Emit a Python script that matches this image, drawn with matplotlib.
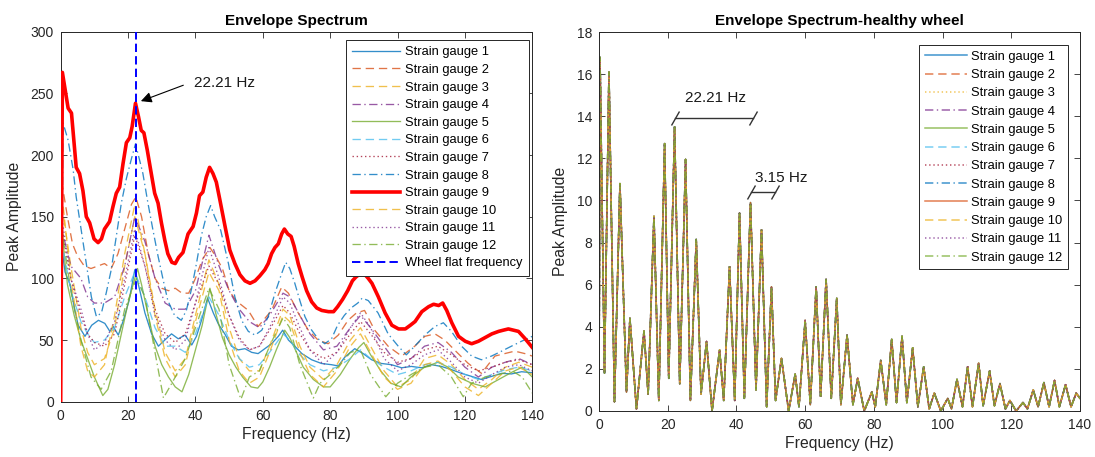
import matplotlib
matplotlib.use("Agg")
import matplotlib.pyplot as plt
from matplotlib.markers import MarkerStyle
from matplotlib.transforms import Affine2D

plt.rcParams['font.family'] = ['Liberation Sans', 'DejaVu Sans']
plt.rcParams['lines.scale_dashes'] = False

# ---------------- data: left panel (wheel with flat) ----------------
g1_f = [0, 0.3, 1.3, 2.8, 4.2, 5.2, 7.2, 9.2, 11.2, 13.1,
        14.6, 15.6, 17.1, 18.6, 20.3, 22.0, 23.5, 25.0, 27.0, 29.0,
        30.9, 32.9, 34.9, 36.9, 38.9, 40.3, 41.8, 43.6, 45.3, 46.8,
        48.7, 50.7, 52.7, 54.7, 56.7, 58.6, 60.6, 62.6, 64.6, 65.9,
        67.6, 69.5, 71.6, 74.5, 77.4, 80.4, 82.4, 84.3, 87.3, 89.8,
        92.3, 95.2, 98.2, 101.2, 104.1, 107.1, 110.1, 113.0, 116.0, 119.0,
        122.0, 124.9, 127.9, 130.9, 133.8, 136.8, 140.0]
g1_a = [0, 125, 105, 95, 74, 62, 53, 62, 66, 63.5,
        57, 61, 54, 66, 82, 107, 90, 72, 55, 45,
        50, 55, 51, 54, 46, 53, 66, 84, 72, 63,
        55, 45, 42, 43, 40, 39, 43, 47, 53, 58,
        50, 45, 39, 34, 31, 30, 29, 36, 43, 39,
        34, 31, 30, 27.5, 28.6, 27.5, 30, 28.6, 26, 23,
        20.5, 18, 20.5, 23, 22.5, 24.3, 23.5]

g2_f = [0, 0.5, 2, 3.5, 5, 7, 9, 11, 13, 15,
        17, 19, 21, 22.3, 24, 26, 28, 30, 32, 34,
        36, 38, 40, 42, 44.3, 46, 48, 50, 52, 55.7,
        58.6, 62.6, 65.6, 67.6, 70.5, 73.5, 76.4, 79.4, 82.4, 85.3,
        87.8, 90.2, 93.2, 97.2, 101.2, 105.1, 108.1, 111.1, 114.0, 118.0,
        121.0, 124.9, 128.9, 131.8, 134.8, 137.8, 140]
g2_a = [0, 175, 150, 128, 118, 110, 108, 110, 112, 108,
        120, 140, 160, 166, 150, 120, 100, 92, 90, 92,
        88, 88, 100, 115, 125, 118, 108, 90, 82, 74,
        61, 74, 93, 88, 72, 58, 50, 47, 54, 66,
        72, 74, 58, 45, 37, 45, 53, 55, 50, 39,
        31, 23, 37, 39, 41, 39, 37]

g5_f = [0, 0.3, 1, 2, 4, 6, 8, 10, 12.5, 14,
        16, 18, 20, 22.8, 24, 26, 28, 30, 32, 34,
        36, 38, 40, 42, 44.3, 46, 48, 50, 52, 54,
        56.5, 58.5, 60, 62, 64, 66.5, 68, 70, 72, 75,
        78, 80, 83, 86, 88.5, 90, 92, 95, 98, 101,
        104, 108, 112, 115, 118, 122, 126, 130, 134, 137,
        140]
g5_a = [0, 150, 120, 95, 70, 50, 35, 20, 5, 10,
        30, 55, 80, 108, 95, 70, 45, 30, 20, 12,
        8, 22, 42, 62, 92, 72, 52, 38, 28, 20,
        12, 11, 16, 28, 42, 58, 52, 40, 28, 18,
        12, 12, 22, 35, 44, 48, 38, 25, 15, 12,
        20, 28, 32, 28, 20, 15, 12, 18, 24, 28,
        20]

g8_f = [0, 0.7, 2.2, 3.7, 4.6, 6.1, 7.6, 9.1, 10.6, 12.1,
        13.5, 15.0, 16.5, 18.0, 19.5, 21.0, 22.2, 23.5, 24.4, 25.9,
        27.4, 28.9, 30.4, 31.8, 33.8, 35.8, 37.3, 38.8, 40.3, 41.7,
        43.2, 44.5, 45.7, 47.5, 49.8, 51.7, 53.7, 55.7, 57.7, 59.7,
        61.6, 63.6, 65.6, 66.8, 68.0, 69.5, 71.0, 72.5, 74.5, 76.4,
        78.4, 80.4, 82.2, 84.2, 86.2, 88.2, 89.5, 91.3, 94.2, 97.2,
        100.2, 102.6, 105.1, 108.1, 111.1, 113.6, 116.0, 119.0, 122.0, 124.9,
        127.9, 130.9, 133.8, 136.8, 140.0]
g8_a = [0, 226, 212, 188, 166, 139, 112, 85, 69, 72,
        88, 107, 134, 161, 181, 197, 209, 195, 185, 161,
        139, 118, 99, 82, 70, 66, 74, 91, 112, 134,
        150, 159, 150, 139, 112, 85, 66, 57, 54, 58,
        69, 88, 104, 113, 108, 96, 82, 69, 58, 51,
        47, 51, 62, 70, 76, 80, 84, 82, 72, 55,
        45, 38, 45, 54, 61, 64, 57, 45, 37, 34,
        37, 41, 45, 49, 53]

g9_f = [0, 0.5, 2.2, 3.2, 3.9, 4.6, 5.6, 6.6, 7.6, 8.6,
        9.9, 11.1, 12.1, 13.0, 14.5, 15.5, 16.5, 17.5, 18.5, 19.5,
        20.5, 21.2, 22.2, 23.1, 23.9, 24.7, 25.7, 26.7, 27.9, 28.9,
        29.9, 30.9, 31.8, 33.0, 34.0, 35.0, 36.3, 37.8, 39.3, 40.3,
        41.2, 42.2, 43.2, 44.2, 45.2, 46.2, 47.3, 48.8, 50.2, 51.7,
        53.2, 54.7, 56.2, 57.7, 59.1, 60.6, 61.6, 62.6, 63.6, 64.6,
        65.6, 66.4, 67.4, 68.4, 69.3, 70.5, 71.7, 73.0, 74.5, 76.0,
        77.5, 79.5, 81.0, 82.2, 83.7, 85.2, 86.6, 87.6, 89.0, 90.0,
        91.3, 92.4, 94.3, 96.3, 98.3, 100.3, 102.3, 103.8, 105.2, 107.2,
        109.2, 110.7, 112.2, 113.4, 114.6, 116.1, 118.1, 120.1, 122.0, 124.0,
        126.0, 128.0, 130.0, 131.4, 132.9, 134.4, 135.9, 137.9, 140.0]
g9_a = [0, 267, 238, 234, 212, 190, 185, 171, 150, 145,
        132, 129, 132, 140, 146, 158, 169, 174, 193, 210,
        214, 223, 242, 231, 220, 218, 204, 188, 169, 161,
        145, 131, 120, 113, 112, 117, 121, 136, 142, 153,
        167, 170, 182, 190, 185, 178, 163, 142, 123, 112,
        103, 98, 96, 98, 102, 107, 112, 120, 125, 128,
        136, 140, 136, 134, 126, 112, 101, 90, 81, 76,
        74, 73, 73, 77, 83, 90, 98, 101, 104, 104,
        100, 96, 85, 72, 62, 59, 59, 62, 65, 73,
        77, 79, 78, 80, 74, 64, 53, 49, 47, 49,
        52, 55, 57, 58, 59, 58, 57, 51, 44]

g12_f = [0, 0.3, 3, 6, 9, 12, 15, 19, 22.5, 25,
         28, 30.5, 33, 37, 40, 44, 47, 50, 53.5, 56,
         59, 62, 66, 68, 71, 75, 77, 80, 83, 86,
         89, 92, 96.5, 100, 104, 108, 112, 116, 119.5, 122,
         126, 130, 134, 137, 140]
g12_a = [0, 140, 90, 50, 20, 10, 25, 75, 100, 85,
         40, 3, 15, 35, 60, 92, 75, 30, 2, 20,
         25, 45, 68, 60, 30, 3, 15, 22, 30, 40,
         42, 22, 4, 15, 22, 28, 30, 20, 4, 15,
         20, 22, 25, 20, 7]

# coarse frequency grid used for gauges 3, 4, 6, 7, 10, 11
coarse_f = [0, 0.3, 3, 6, 8, 10, 13, 16, 19, 22,
            25, 28, 31, 34, 37, 40, 44, 47, 50, 53,
            56, 59, 62, 66, 68, 71, 74, 78, 82, 86,
            89, 92, 96, 100, 104, 108, 112, 116, 120, 124,
            128, 132, 136, 140]
g3_a = [0, 160, 110, 60, 40, 30, 35, 60, 110, 150,
        120, 75, 40, 25, 35, 70, 115, 95, 60, 35,
        25, 25, 45, 75, 70, 45, 28, 18, 30, 50,
        60, 45, 25, 12, 18, 35, 38, 30, 18, 10,
        18, 28, 32, 28]
g4_a = [0, 140, 110, 100, 85, 80, 80, 85, 110, 150,
        130, 100, 80, 75, 75, 90, 135, 110, 90, 75,
        65, 60, 70, 88, 85, 70, 55, 42, 45, 60,
        70, 60, 45, 30, 35, 45, 48, 40, 28, 20,
        28, 32, 35, 30]
g6_a = [0, 130, 90, 65, 55, 48, 50, 60, 85, 105,
        85, 60, 45, 45, 40, 55, 85, 70, 50, 35,
        28, 30, 40, 55, 50, 38, 30, 25, 28, 35,
        42, 35, 28, 22, 25, 30, 32, 28, 22, 18,
        22, 26, 28, 25]
g7_a = [0, 140, 100, 70, 55, 48, 45, 55, 95, 135,
        110, 75, 55, 48, 55, 80, 110, 95, 70, 52,
        42, 45, 58, 78, 72, 55, 42, 35, 40, 55,
        65, 55, 40, 32, 35, 42, 45, 38, 30, 25,
        28, 32, 34, 30]
g10_a = [0, 170, 100, 45, 25, 20, 30, 70, 120, 160,
         120, 70, 35, 20, 30, 65, 105, 90, 50, 25,
         15, 20, 40, 70, 65, 40, 22, 12, 25, 45,
         55, 40, 20, 10, 15, 30, 33, 25, 12, 5,
         15, 25, 28, 22]
g11_a = [0, 150, 100, 75, 55, 42, 48, 65, 100, 140,
         110, 70, 50, 42, 50, 80, 125, 100, 70, 50,
         42, 45, 60, 85, 80, 60, 42, 30, 40, 60,
         72, 60, 35, 25, 30, 38, 42, 32, 20, 15,
         22, 28, 30, 25]

wheel_flat_freq = 22.21

# ---------------- data: right panel (healthy wheel) ----------------
healthy_f = [0, 0.3, 1.6, 2.9, 4.5, 6.1, 8.0, 9.0, 10.9, 13.1,
             14.3, 16.0, 17.4, 19.1, 20.3, 22.0, 23.5, 25.2, 26.6, 28.3,
             29.7, 31.3, 32.9, 35.1, 36.3, 38.0, 39.5, 40.9, 42.3, 44.1,
             45.7, 47.3, 48.8, 50.2, 51.4, 53.1, 55.2, 57.1, 58.2, 60.0,
             61.5, 63.2, 64.5, 66.1, 67.6, 69.2, 70.4, 72.2, 73.9, 75.3,
             77.2, 79.4, 80.4, 82.0, 83.6, 85.2, 86.6, 88.2, 89.6, 91.3,
             92.8, 94.5, 96.1, 97.6, 99.5, 101.5, 102.6, 104.2, 105.8, 107.3,
             108.7, 110.5, 111.8, 113.7, 115.1, 116.7, 118.3, 119.6, 121.4, 123.4,
             124.7, 126.4, 127.8, 129.5, 131.0, 132.6, 134.0, 135.8, 137.4, 138.9,
             140.0]
healthy_a = [0, 16.8, 1.8, 16.1, 0.44, 10.8, 0.9, 4.4, 0.1, 3.8,
             0.8, 9.25, 0.5, 12.7, 1.55, 13.5, 1.3, 11.95, 0.5, 8.15,
             0.8, 3.3, 0.0, 2.9, 0.5, 6.85, 0.5, 9.4, 0.6, 9.9,
             1.0, 8.6, 0.2, 5.9, 0.5, 2.5, 0.0, 1.75, 0.2, 4.3,
             0.3, 5.9, 0.7, 6.25, 0.6, 5.35, 0.3, 3.6, 0.3, 1.55,
             0.0, 0.9, 0.2, 2.4, 0.3, 3.4, 0.4, 3.55, 0.4, 3.0,
             0.2, 2.1, 0.1, 0.85, 0.0, 0.6, 0.1, 1.5, 0.2, 2.1,
             0.2, 2.27, 0.25, 1.9, 0.25, 1.3, 0.1, 0.5, 0.0, 0.4,
             0.1, 1.0, 0.2, 1.35, 0.2, 1.45, 0.2, 1.25, 0.2, 0.85,
             0.6]

labels = [f"Strain gauge {i}" for i in range(1, 13)]

# ---------------- styles ----------------
C = ['#0072BD', '#D95319', '#EDB120', '#7E2F8E', '#77AC30', '#4DBEEE', '#A2142F']
DASH = (0, (6, 3.5))
DOT = (0, (1, 2))
DASHDOT = (0, (6, 2.5, 1, 2.5))
styles_left = [
    dict(color=C[0], ls='-'), dict(color=C[1], ls=DASH), dict(color=C[2], ls=DASH),
    dict(color=C[3], ls=DASHDOT), dict(color=C[4], ls='-'), dict(color=C[5], ls=DASH),
    dict(color=C[6], ls=DOT), dict(color=C[0], ls=DASHDOT), dict(color='#FF0000', ls='-'),
    dict(color=C[2], ls=DASH), dict(color=C[3], ls=DOT), dict(color=C[4], ls=DASHDOT)]
styles_right = [
    dict(color=C[0], ls='-'), dict(color=C[1], ls=DASH), dict(color=C[2], ls=DOT),
    dict(color=C[3], ls=DASHDOT), dict(color=C[4], ls='-'), dict(color=C[5], ls=DASH),
    dict(color=C[6], ls=DOT), dict(color=C[0], ls=DASHDOT), dict(color=C[1], ls='-'),
    dict(color=C[2], ls=DASH), dict(color=C[3], ls=DOT), dict(color=C[4], ls=DASHDOT)]

left_series = [(g1_f, g1_a), (g2_f, g2_a), (coarse_f, g3_a), (coarse_f, g4_a),
               (g5_f, g5_a), (coarse_f, g6_a), (coarse_f, g7_a), (g8_f, g8_a),
               (g9_f, g9_a), (coarse_f, g10_a), (coarse_f, g11_a), (g12_f, g12_a)]

W, H = 1095, 457
fig = plt.figure(figsize=(W / 100, H / 100), dpi=100)
axL = fig.add_axes([60.7 / W, 1 - 401.7 / H, 471.6 / W, 370 / H])
axR = fig.add_axes([599 / W, 1 - 411 / H, 481 / W, 379 / H])

AX_COL = '#262626'

def style_axes(ax):
    for s in ax.spines.values():
        s.set_color(AX_COL)
        s.set_linewidth(0.7)
    ax.tick_params(direction='in', top=True, right=True, length=4, width=0.6,
                   colors=AX_COL, labelsize=10, labelcolor=AX_COL, pad=5)
    ax.set_xlim(0, 140)
    ax.set_xticks(range(0, 141, 20))
    ax.set_xlabel('Frequency (Hz)', fontsize=11.3, color=AX_COL, labelpad=3)
    ax.set_ylabel('Peak Amplitude', fontsize=11.3, color=AX_COL, labelpad=6)

# ---- left panel ----
for i, (f, a) in enumerate(left_series):
    st = styles_left[i]
    if i == 8:
        axL.plot(f, a, color=st['color'], ls=st['ls'], lw=2.6, label=labels[i], zorder=3)
    else:
        axL.plot(f, a, color=st['color'], ls=st['ls'], lw=0.95, alpha=0.8,
                 label=labels[i], zorder=2)
axL.axvline(wheel_flat_freq, color='#0000FF', ls=(0, (6, 3)), lw=1.4,
            label='Wheel flat frequency', zorder=4)
axL.set_ylim(0, 300)
axL.set_yticks(range(0, 301, 50))
style_axes(axL)
axL.set_title('Envelope Spectrum', fontsize=11, fontweight='bold', color='#000000', pad=5)
axL.annotate('', xy=(23.8, 243.7), xytext=(36.4, 256.6),
             arrowprops=dict(arrowstyle='-|>', color='#000000', lw=0.8,
                             mutation_scale=16, shrinkA=0, shrinkB=0))
axL.text(39.6, 258.7, '22.21 Hz', fontsize=11, va='center', ha='left', color='#1a1a1a')
legL = axL.legend(loc='upper right', bbox_to_anchor=(0.993, 0.978), borderaxespad=0,
                  fontsize=9.3, frameon=True, fancybox=False, edgecolor=AX_COL,
                  framealpha=1, handlelength=3.7, labelspacing=0.43,
                  borderpad=0.5, handletextpad=0.4)
legL.get_frame().set_linewidth(0.7)

# ---- right panel ----
for i in range(12):
    st = styles_right[i]
    axR.plot(healthy_f, healthy_a, color=st['color'], ls=st['ls'], lw=1.1,
             alpha=0.75, label=labels[i])
axR.set_ylim(0, 18)
axR.set_yticks(range(0, 19, 2))
style_axes(axR)
axR.set_title('Envelope Spectrum-healthy wheel', fontsize=11, fontweight='bold',
              color='#000000', pad=5)

slash = MarkerStyle('|', transform=Affine2D().rotate_deg(-32))
def bracket(ax, x0, x1, y):
    ax.plot([x0, x1], [y, y], color='#333333', lw=1.0)
    ax.plot([x0, x1], [y, y], ls='none', marker=slash, ms=12, mew=1.0, color='#333333')

bracket(axR, 22.1, 44.7, 13.9)
axR.text(34.0, 14.87, '22.21 Hz', fontsize=11, ha='center', va='center', color='#1a1a1a')
bracket(axR, 44.3, 51.1, 10.4)
axR.text(45.5, 11.05, '3.15 Hz', fontsize=11, ha='left', va='center', color='#1a1a1a')

legR = axR.legend(loc='upper right', bbox_to_anchor=(0.9757, 0.9657), borderaxespad=0,
                  fontsize=9.3, frameon=True, fancybox=False, edgecolor=AX_COL,
                  framealpha=1, handlelength=3.3, labelspacing=0.48,
                  borderpad=0.45, handletextpad=0.3)
legR.get_frame().set_linewidth(0.7)

fig.savefig('out.png', dpi=100, facecolor='white')
